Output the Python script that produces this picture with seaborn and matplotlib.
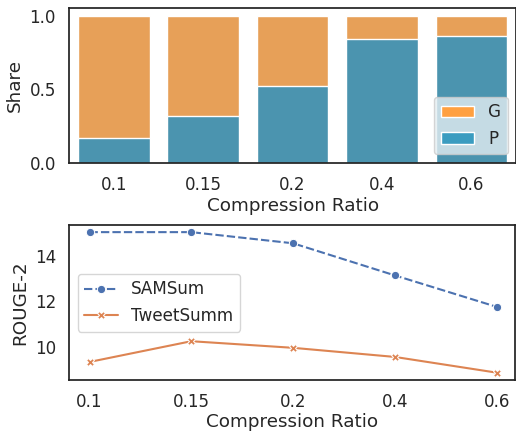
import numpy as np
import pandas as pd
import matplotlib.pyplot as plt
import seaborn as sns
from matplotlib.patches import Patch

# Data
ratios = ["0.1", "0.15", "0.2", "0.4", "0.6"]
share_p = [0.17, 0.32, 0.52, 0.84, 0.86]
share_g = [0.83, 0.68, 0.48, 0.16, 0.14]
rouge_samsum = [15.04, 15.04, 14.55, 13.14, 11.76]
rouge_tweetsumm = [9.34, 10.25, 9.96, 9.56, 8.87]

ORANGE = "#ffa040"
TEAL = "#3a9cc0"


def grafico_share(ax):
    df = pd.DataFrame({"ratio": ratios, "P": share_p, "G": share_g})
    df["total"] = df["P"] + df["G"]
    # total first, P drawn on top so G shows as the upper part
    sns.barplot(data=df, x="ratio", y="total", color=ORANGE, ax=ax,
                edgecolor="white", linewidth=1)
    sns.barplot(data=df, x="ratio", y="P", color=TEAL, ax=ax,
                edgecolor="white", linewidth=1)
    ax.set_xlim(-0.5, 4.5)
    ax.set_ylim(0, 1.054)
    ax.set_yticks([0, 0.5, 1.0])
    ax.set_xlabel("Compression Ratio", labelpad=2)
    ax.set_ylabel("Share")
    handles = [Patch(facecolor=ORANGE, label="G"), Patch(facecolor=TEAL, label="P")]
    ax.legend(handles=handles, loc="lower right", facecolor="#e4eef2",
              framealpha=0.8)


def grafico_rouge(ax):
    df = pd.DataFrame({
        "ratio": ratios * 2,
        "score": rouge_samsum + rouge_tweetsumm,
        "dataset": ["SAMSum"] * len(ratios) + ["TweetSumm"] * len(ratios),
    })
    sns.lineplot(data=df, x="ratio", y="score", hue="dataset", style="dataset",
                 markers={"SAMSum": "o", "TweetSumm": "X"},
                 dashes={"SAMSum": (4, 1.5), "TweetSumm": ""},
                 palette="deep", ax=ax)
    ax.set_xlim(-0.2, 4.18)
    ax.set_ylim(8.54, 15.35)
    ax.set_yticks([10, 12, 14])
    ax.set_xlabel("Compression Ratio", labelpad=1)
    ax.set_ylabel("ROUGE-2")
    ax.legend(loc="center left")


def main():
    sns.set_theme(style="white", font_scale=1.1)
    plt.rcParams["axes.edgecolor"] = "#222222"
    fig = plt.figure(figsize=(5.16, 4.32), dpi=100)
    ax1 = fig.add_axes([0.134, 0.623, 0.866, 0.359])
    ax2 = fig.add_axes([0.134, 0.120, 0.864, 0.359])
    grafico_share(ax1)
    grafico_rouge(ax2)
    fig.savefig("out.png", dpi=100)


if __name__ == "__main__":
    main()
